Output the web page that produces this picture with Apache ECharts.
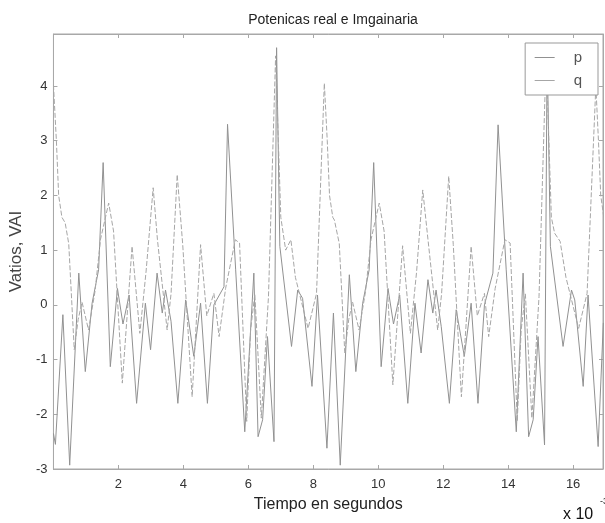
<!DOCTYPE html>
<html>
<head>
<meta charset="utf-8">
<script src="https://cdn.jsdelivr.net/npm/echarts@6/dist/echarts.min.js"></script>
<style>html,body{margin:0;padding:0;background:#fff}#c{width:605px;height:523px}</style>
</head>
<body>
<div id="c"></div>
<script>
// time in ms (x 10^-3 s)
const pX = [0.00,0.06,0.29,0.50,0.78,0.98,1.19,1.39,1.53,1.75,1.97,2.14,2.33,2.56,2.83,2.99,3.19,3.35,3.45,3.62,3.83,4.07,4.32,4.53,4.74,4.94,5.25,5.36,5.61,5.89,6.17,6.30,6.44,6.59,6.79,6.87,6.97,7.33,7.52,7.67,7.96,8.13,
  8.42,8.62,8.83,9.11,9.31,9.52,9.72,9.86,10.09,10.30,10.47,10.66,10.91,11.13,11.32,11.53,11.68,11.78,11.94,12.19,12.40,12.65,12.86,13.07,13.27,13.53,13.69,13.94,14.25,14.46,14.63,14.77,14.92,15.12,15.20,15.30,15.69,15.95,16.05,16.31,16.46,16.77,16.93];
const pY = [-2.35,-2.55,-0.18,-2.93,0.58,-1.22,0.03,0.64,2.60,-1.13,0.30,-0.35,0.18,-1.80,0.03,-0.82,0.58,-0.15,0.27,-0.30,-1.80,0.09,-0.94,0.03,-1.80,0.00,0.33,3.30,0.64,-2.32,0.58,-2.41,-2.10,-0.58,-2.50,4.70,1.07,-0.76,0.27,0.12,-1.49,0.18,
  -2.62,-0.15,-2.93,0.55,-1.22,0.03,0.64,2.60,-1.13,0.30,-0.35,0.18,-1.80,0.03,-0.88,0.46,-0.15,0.27,-0.40,-1.80,-0.09,-0.94,0.03,-1.80,0.00,0.58,3.29,0.64,-2.32,0.58,-2.41,-2.10,-0.58,-2.56,4.70,1.07,-0.76,0.27,0.09,-1.49,0.18,-2.59,-0.33];
const qX = [0.00,0.09,0.16,0.26,0.36,0.47,0.64,0.76,0.88,1.08,1.28,1.45,1.70,1.85,2.12,2.42,2.66,2.85,3.07,3.20,3.50,3.62,3.81,3.98,4.27,4.53,4.72,4.94,5.10,5.30,5.60,5.73,5.95,6.07,6.20,6.40,6.62,6.84,7.00,7.15,7.31,7.45,7.84,8.10,
  8.34,8.43,8.50,8.60,8.65,8.80,8.97,9.09,9.21,9.41,9.61,9.78,10.03,10.18,10.45,10.75,10.99,11.18,11.37,11.53,11.83,11.95,12.17,12.31,12.56,12.86,13.05,13.27,13.40,13.60,13.90,14.06,14.28,14.40,14.53,14.73,14.95,15.17,15.33,15.43,15.60,15.78,16.17,16.43,16.70,16.78,16.85,16.95];
const qY = [4.02,3.00,2.00,1.60,1.50,1.12,-0.82,-0.27,0.05,-0.46,0.25,1.20,1.86,1.35,-1.43,1.07,-0.52,0.60,2.14,1.20,-0.46,0.20,2.38,1.10,-1.68,1.10,-0.20,0.21,-0.58,0.30,1.19,1.13,-2.13,-0.46,0.20,-2.07,0.15,4.55,1.60,1.00,1.19,0.50,-0.43,0.21,
  4.05,3.00,2.00,1.60,1.55,1.12,-0.88,-0.27,0.05,-0.46,0.25,1.20,1.86,1.35,-1.46,1.08,-0.52,0.60,2.10,1.20,-0.46,0.20,2.35,1.10,-1.68,1.07,-0.20,0.21,-0.58,0.30,1.19,1.13,-2.13,-0.46,0.20,-2.07,0.15,4.55,1.60,1.31,1.16,0.50,-0.43,0.21,4.00,3.00,2.00,1.58];
const seriesNames = ['p','q'];
const titleText = 'Potenicas real e Imgainaria';
const xName = 'Tiempo en segundos';
const yName = 'Vatios, VAI';

const pData = pX.map((x,i)=>[x,pY[i]]);
const qData = qX.map((x,i)=>[x,qY[i]]);
const FF = "'Liberation Sans', Arial, sans-serif";
const chart = echarts.init(document.getElementById('c'), null, {renderer:'canvas'});
const axisCommon = {
  axisLine:{show:true,onZero:false,lineStyle:{color:'#a8a8a8',width:1}},
  axisTick:{show:true,inside:true,length:4,lineStyle:{color:'#a8a8a8'}},
  splitLine:{show:false}
};
chart.setOption({
  animation:false,
  backgroundColor:'#fff',
  title:{text:titleText,left:328,top:8,textAlign:'center',
    textStyle:{fontFamily:FF,fontSize:14,fontWeight:'normal',color:'#222'}},
  grid:{left:53,right:2,top:34,bottom:54,show:true,borderColor:'#a8a8a8',borderWidth:1},
  legend:{data:seriesNames,orient:'vertical',right:7,top:43,
    padding:[7,16,7,9],itemGap:8,itemWidth:20,itemHeight:14,
    itemStyle:{opacity:0},
    lineStyle:{width:1,type:'solid'},
    backgroundColor:'#fff',borderColor:'#999',borderWidth:1,borderRadius:0,
    textStyle:{fontFamily:FF,fontSize:15,color:'#555',padding:[0,0,0,14]}},
  xAxis:[
    Object.assign({type:'value',min:0,max:16.92,interval:2,position:'bottom',
      name:xName,nameLocation:'middle',nameGap:28,
      nameTextStyle:{fontFamily:FF,fontSize:16,color:'#222'},
      axisLabel:{fontFamily:FF,fontSize:13,color:'#333',margin:9,showMinLabel:false,showMaxLabel:false}},axisCommon),
    Object.assign({type:'value',min:0,max:16.92,interval:2,position:'top',axisLabel:{show:false}},axisCommon)
  ],
  yAxis:[
    Object.assign({type:'value',min:-3,max:4.95,interval:1,position:'left',
      name:yName,nameLocation:'middle',nameGap:27,nameRotate:90,
      nameTextStyle:{fontFamily:FF,fontSize:17,color:'#444'},
      axisLabel:{fontFamily:FF,fontSize:13,color:'#333',margin:6,showMaxLabel:false}},axisCommon),
    Object.assign({type:'value',min:-3,max:4.95,interval:1,position:'right',axisLabel:{show:false}},axisCommon)
  ],
  series:[
    {name:'p',type:'line',data:pData,symbol:'none',lineStyle:{color:'#919191',width:1},itemStyle:{color:'#919191'},z:2},
    {name:'q',type:'line',data:qData,symbol:'none',lineStyle:{color:'#a6a6a6',width:1,type:[5,2]},itemStyle:{color:'#a6a6a6'},z:2}
  ],
  graphic:[
    {type:'text',left:563,top:507,style:{text:'x 10',fontFamily:FF,fontSize:16,fill:'#111'}},
    {type:'text',left:600,top:497,style:{text:'-3',fontFamily:FF,fontSize:9,fill:'#111'}}
  ]
});
</script>
</body>
</html>
